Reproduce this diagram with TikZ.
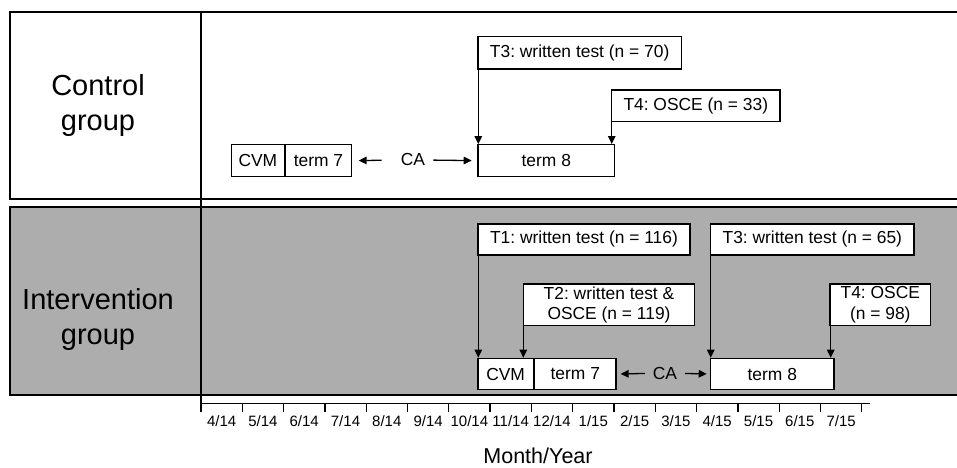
\documentclass[tikz,border=0pt]{standalone}
\usepackage{fontspec}
\setmainfont{Liberation Sans}
\usetikzlibrary{arrows.meta}
\frenchspacing

\tikzset{
  box/.style={draw,fill=white,line width=1.3pt,inner sep=0pt,anchor=north west,
    align=center,font=\fontsize{17.4}{20.5}\selectfont},
  testarrow/.style={-{Triangle[length=8pt,width=7.5pt]},line width=1.3pt},
  caarrow/.style={-{Triangle[length=8pt,width=7.5pt]},line width=1.3pt},
  grouplabel/.style={align=center,font=\fontsize{29}{35}\selectfont},
}

\begin{document}
\begin{tikzpicture}[x=1pt,y=-1pt]
\useasboundingbox (0,0) rectangle (957,467);
% panels
\fill[black!32] (10,207) rectangle (957,395);
\draw[line width=1.4pt] (957,12) -- (10,12) -- (10,199) -- (957,199);
\draw[line width=1.4pt] (957,207) -- (10,207) -- (10,395) -- (957,395);
\draw[line width=1.4pt] (201,12) -- (201,412);
\node[grouplabel] (control) at (98,105) {Control\\group};
\node[grouplabel] (intervention) at (98,319) {Intervention\\group};

\begin{scope}% control group
  \node[box,minimum width=53pt,minimum height=32pt] (cvmA) at (230.7,144) {CVM};
  \node[box,minimum width=65.6pt,minimum height=32pt] (termSevenA) at (cvmA.north east) {term 7};
  \node[box,minimum width=136.7pt,minimum height=32pt] (termEightA) at (477.3,144) {term 8};
  \node[box,minimum width=203.4pt,minimum height=32.3pt] (tThreeA) at (477.3,36) {T3: written test (n = 70)};
  \node[box,minimum width=168.3pt,minimum height=31.7pt] (tFourA) at (611,89.3) {T4: OSCE (n = 33)};
  \node[inner sep=0pt,font=\fontsize{17.4}{20.5}\selectfont] (caA) at (413,160) {CA};
  \coordinate (threeFootA) at ([xshift=1pt]tThreeA.south west);
  \coordinate (fourFootA) at ([xshift=0.7pt]tFourA.south west);
  \draw[testarrow] (threeFootA) -- (threeFootA |- termEightA.north);
  \draw[testarrow] (fourFootA) -- (fourFootA |- termEightA.north);
  \draw[caarrow,shorten <=19.2pt,shorten >=6.7pt] (caA.west) -- (termSevenA.east);
  \draw[caarrow,shorten <=8.2pt,shorten >=5.6pt] (caA.east) -- (termEightA.west);
\end{scope}

\begin{scope}% intervention group
  \node[box,minimum width=55.4pt,minimum height=31.3pt] (cvmB) at (477.3,357.7) {CVM};
  \node[box,minimum width=81.3pt,minimum height=31.3pt] (termSevenB) at (cvmB.north east) {term 7};
  \node[box,minimum width=123.3pt,minimum height=31.3pt] (termEightB) at (710,357.7) {term 8};
  \node[box,minimum width=212pt,minimum height=31pt] (tOneB) at (477.3,223.3) {T1: written test (n = 116)};
  \node[box,minimum width=171.3pt,minimum height=41.7pt] (tTwoB) at (522.7,283.3) {T2: written test \&\\OSCE (n = 119)};
  \node[box,minimum width=203.3pt,minimum height=31pt] (tThreeB) at (710,223.3) {T3: written test (n = 65)};
  \node[box,minimum width=100.7pt,minimum height=41.7pt] (tFourB) at (829.3,283.3) {T4: OSCE\\(n = 98)};
  \node[inner sep=0pt,font=\fontsize{17.4}{20.5}\selectfont] (caB) at (665,373.3) {CA};
  \coordinate (oneFootB) at ([xshift=1pt]tOneB.south west);
  \coordinate (twoFootB) at ([xshift=0.6pt]tTwoB.south west);
  \coordinate (threeFootB) at ([xshift=0.7pt]tThreeB.south west);
  \coordinate (fourFootB) at ([xshift=1.4pt]tFourB.south west);
  \draw[testarrow] (oneFootB) -- (oneFootB |- cvmB.north);
  \draw[testarrow] (twoFootB) -- (twoFootB |- cvmB.north);
  \draw[testarrow] (threeFootB) -- (threeFootB |- termEightB.north);
  \draw[testarrow] (fourFootB) -- (fourFootB |- termEightB.north);
  \draw[caarrow,shorten <=7.9pt,shorten >=4pt] (caB.west) -- (termSevenB.east);
  \draw[caarrow,shorten <=7.9pt,shorten >=3.3pt] (caB.east) -- (termEightB.west);
\end{scope}

% time axis
\draw[line width=1.3pt] (201,403.5) -- (870,403.5);
\foreach \k in {1,...,16}
  \draw[line width=1.3pt] (201+41.3*\k,403.5) -- ++(0,8.5);
\foreach \mo/\yr [count=\k from 0] in {4/14,5/14,6/14,7/14,8/14,9/14,10/14,11/14,
    12/14,1/15,2/15,3/15,4/15,5/15,6/15,7/15}
  \node[anchor=base,font=\fontsize{15}{17}\selectfont] (month\k) at (221.6+41.3*\k,426.7) {\mo/\yr};
\node[anchor=base,font=\fontsize{21.5}{24}\selectfont] (axislabel) at (538,463.3) {Month/Year};
\end{tikzpicture}
\end{document}
